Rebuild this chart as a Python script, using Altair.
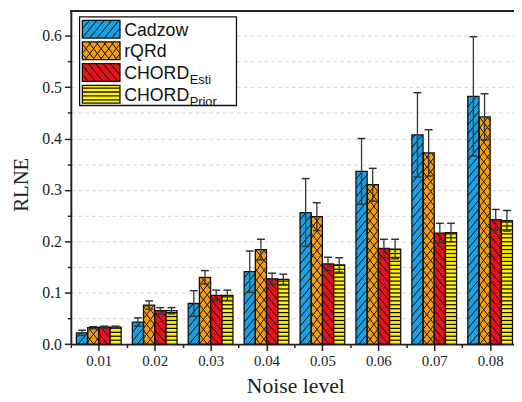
import math
import altair as alt
import pandas as pd

# ---------------- data ----------------
levels = [0.01, 0.02, 0.03, 0.04, 0.05, 0.06, 0.07, 0.08]
series = ["Cadzow", "rQRd", "CHORD_Esti", "CHORD_Prior"]
legend_main = ["Cadzow", "rQRd", "CHORD", "CHORD"]
legend_sub = ["", "", "Esti", "Prior"]

cadzow = [0.022, 0.043, 0.079, 0.141, 0.256, 0.336, 0.407, 0.482]
cadzow_err = [0.005, 0.008, 0.025, 0.040, 0.066, 0.064, 0.082, 0.116]
rqrd = [0.032, 0.076, 0.130, 0.184, 0.248, 0.310, 0.372, 0.442]
rqrd_err = [0.002, 0.008, 0.013, 0.020, 0.027, 0.032, 0.045, 0.045]
esti = [0.033, 0.065, 0.095, 0.127, 0.156, 0.186, 0.216, 0.242]
esti_err = [0.002, 0.006, 0.010, 0.011, 0.013, 0.018, 0.019, 0.020]
prior = [0.033, 0.065, 0.095, 0.126, 0.154, 0.185, 0.217, 0.240]
prior_err = [0.002, 0.006, 0.010, 0.010, 0.014, 0.019, 0.018, 0.020]

y_ticks = [round(0.05 * i, 2) for i in range(13)]
x_ticks = [round(0.005 * i, 3) for i in range(1, 17)]

# ---------------- style / layout ----------------
colors = ["#1AA0E2", "#F59E0C", "#E5121C", "#FFF200"]
patterns = [
    [("/", 1.2, 9.0)],
    [("/", 1.3, 10.0), ("\\", 1.3, 10.0)],
    [("\\", 1.2, 9.0)],
    [("h", 0.0, 4.0)],
]
hatch_width = [1.0, 1.0, 1.0, 1.3]

W, H = 450.0, 338.3
KX, KY = 5677.0, 522.0
X0 = 0.005
XMAX = X0 + W / KX
YMAX = H / KY
BAR_W = 0.002
CAP = 8.0 / KX
PLOT_LEFT_PAGE, BASE_PAGE = 71.8, 8 + H


def to_x(px):
    return X0 + px / KX


def to_y(py):
    return py / KY


def hatch(xa, xb, ya, yb, kind, s, d):
    segs = []
    if kind == "h":
        k = math.floor(ya / d) + 1
        while k * d < yb - 0.3:
            y = k * d
            if y > ya + 0.3:
                segs.append((xa, y, xb, y))
            k += 1
    elif kind == "/":
        cmin, cmax = ya - s * xb, yb - s * xa
        for k in range(math.floor(cmin / d), math.ceil(cmax / d) + 1):
            c = k * d
            lo = max(xa, (ya - c) / s)
            hi = min(xb, (yb - c) / s)
            if hi - lo > 0.3:
                segs.append((lo, s * lo + c, hi, s * hi + c))
    else:
        cmin, cmax = ya + s * xa, yb + s * xb
        for k in range(math.floor(cmin / d), math.ceil(cmax / d) + 1):
            c = k * d
            lo = max(xa, (c - yb) / s)
            hi = min(xb, (c - ya) / s)
            if hi - lo > 0.3:
                segs.append((lo, c - s * lo, hi, c - s * hi))
    return segs


values = [cadzow, rqrd, esti, prior]
errors = [cadzow_err, rqrd_err, esti_err, prior_err]

bar_rows, err_rows, hatch_rows = [], [], []
for i, name in enumerate(series):
    for j, lv in enumerate(levels):
        left = lv + (i - 2) * BAR_W
        right = left + BAR_W
        v, e = values[i][j], errors[i][j]
        bar_rows.append(dict(series=name, x1=left, x2=right, y1=0.0, y2=v))
        cx = (left + right) / 2
        err_rows.append(dict(series=name, x1=cx, xl=cx - CAP / 2, xr=cx + CAP / 2,
                             lo=v - e, hi=v + e))
        xa, xb = (left - X0) * KX, (right - X0) * KX
        for kind, s, d in patterns[i]:
            for (a, b, c, dd) in hatch(xa, xb, 0.0, v * KY, kind, s, d):
                hatch_rows.append(dict(series=name, x1=to_x(a), y1=to_y(b),
                                       x2=to_x(c), y2=to_y(dd), w=hatch_width[i]))

bars = pd.DataFrame(bar_rows)
errs = pd.DataFrame(err_rows)
hatches = pd.DataFrame(hatch_rows)

leg_rows, leg_hatch, leg_text = [], [], []
box = dict(x1=to_x(80.7 - PLOT_LEFT_PAGE), x2=to_x(240 - PLOT_LEFT_PAGE),
           y1=to_y(BASE_PAGE - 104), y2=to_y(BASE_PAGE - 14))
for i, name in enumerate(series):
    top = 17.5 + 22 * i
    xa, xb = 83.5 - PLOT_LEFT_PAGE, 121.7 - PLOT_LEFT_PAGE
    ya, yb = BASE_PAGE - (top + 18), BASE_PAGE - top
    leg_rows.append(dict(series=name, x1=to_x(xa), x2=to_x(xb), y1=to_y(ya), y2=to_y(yb)))
    for kind, s, d in patterns[i]:
        for (a, b, c, dd) in hatch(xa, xb, ya, yb, kind, s, d):
            leg_hatch.append(dict(series=name, x1=to_x(a), y1=to_y(b), x2=to_x(c),
                                  y2=to_y(dd), w=hatch_width[i]))
    tx = 126 - PLOT_LEFT_PAGE
    ty = BASE_PAGE - (top + 15.5)
    leg_text.append(dict(t=legend_main[i], x1=to_x(tx), y1=to_y(ty), size=18))
    if legend_sub[i]:
        leg_text.append(dict(t=legend_sub[i], x1=to_x(tx + 66.5), y1=to_y(ty - 5), size=13))
leg_sw = pd.DataFrame(leg_rows)
leg_h = pd.DataFrame(leg_hatch)
leg_t = pd.DataFrame(leg_text)

# ---------------- encodings ----------------
AX = "#222222"
x_axis = alt.Axis(
    values=x_ticks,
    labelExpr="round(datum.value*1000) % 10 == 0 ? format(datum.value, '.2f') : ''",
    tickSize={"condition": {"test": "round(datum.value*1000) % 10 != 0", "value": 3.5}, "value": 6.5},
    grid=False, domainColor=AX, domainWidth=2, tickColor=AX, tickWidth=1.5,
    labelFont="Liberation Serif", labelFontSize=15, labelColor=AX, labelPadding=3,
    labelFlush=False, labelOverlap=False,
    title="Noise level", titleFont="Liberation Serif", titleFontSize=22,
    titleFontWeight="normal", titleColor=AX, titleX=228, titleY=49.5,
    titleBaseline="alphabetic", titleAlign="center",
)
y_axis = alt.Axis(
    values=y_ticks,
    labelExpr="round(datum.value*100) % 10 == 0 ? format(datum.value, '.1f') : ''",
    tickSize={"condition": {"test": "round(datum.value*100) % 10 != 0", "value": 3.5}, "value": 6.5},
    grid=True, gridDash=[4, 3], gridColor="#d6d6d6", gridWidth=1,
    domainColor=AX, domainWidth=2, tickColor=AX, tickWidth=1.5,
    labelFont="Liberation Serif", labelFontSize=16, labelColor=AX, labelPadding=3,
    labelFlush=False, labelOverlap=False,
    title="RLNE", titleFont="Liberation Serif", titleFontSize=21,
    titleFontWeight="normal", titleColor=AX, titleX=-44.3, titleY=176,
    titleAlign="center", titleBaseline="alphabetic", titleAngle=270,
)
xs = alt.Scale(domain=[X0, XMAX], nice=False, zero=False)
ys = alt.Scale(domain=[0, YMAX], nice=False, zero=False)
color_scale = alt.Scale(domain=series, range=colors)


def X(field):
    return alt.X(field, type="quantitative", scale=xs, axis=x_axis)


def Y(field):
    return alt.Y(field, type="quantitative", scale=ys, axis=y_axis)


bar_fill = alt.Chart(bars).mark_rect(strokeWidth=0).encode(
    x=X("x1"), x2="x2:Q", y=Y("y1"), y2="y2:Q",
    fill=alt.Fill("series:N", scale=color_scale, legend=None),
)


def rules(df, color="#111111"):
    return alt.Chart(df).mark_rule(color=color, strokeCap="butt").encode(
        x=X("x1"), y=Y("y1"), x2="x2:Q", y2="y2:Q",
        strokeWidth=alt.StrokeWidth("w:Q", scale=None, legend=None),
    )


bar_hatch = rules(hatches)
bar_outline = alt.Chart(bars).mark_rect(fillOpacity=0, stroke="#111111", strokeWidth=1.3).encode(
    x=X("x1"), x2="x2:Q", y=Y("y1"), y2="y2:Q",
)
err_v = alt.Chart(errs).mark_rule(color="#333333", strokeWidth=1.3).encode(
    x=X("x1"), y=Y("lo"), y2="hi:Q",
)
err_top = alt.Chart(errs).mark_rule(color="#333333", strokeWidth=1.5).encode(
    x=X("xl"), x2="xr:Q", y=Y("hi"),
)
err_bot = alt.Chart(errs).mark_rule(color="#333333", strokeWidth=1.5).encode(
    x=X("xl"), x2="xr:Q", y=Y("lo"),
)
top_border = alt.Chart(bars).mark_rule(color=AX, strokeWidth=2).encode(
    x=alt.value(0), x2=alt.value(W), y=alt.value(0)
)

leg_box = alt.Chart(pd.DataFrame([box])).mark_rect(fill="white", stroke="#111111", strokeWidth=1.3).encode(
    x=X("x1"), x2="x2:Q", y=Y("y1"), y2="y2:Q",
)
leg_fill = alt.Chart(leg_sw).mark_rect(strokeWidth=0).encode(
    x=X("x1"), x2="x2:Q", y=Y("y1"), y2="y2:Q",
    fill=alt.Fill("series:N", scale=color_scale, legend=None),
)
leg_hatch_c = rules(leg_h)
leg_outline = alt.Chart(leg_sw).mark_rect(fillOpacity=0, stroke="#111111", strokeWidth=1.3).encode(
    x=X("x1"), x2="x2:Q", y=Y("y1"), y2="y2:Q",
)
leg_text_c = alt.Chart(leg_t).mark_text(
    align="left", baseline="alphabetic", font="Liberation Sans", color="#111111"
).encode(
    x=X("x1"), y=Y("y1"),
    text="t:N",
    size=alt.Size("size:Q", scale=None, legend=None),
)

chart = alt.layer(
    bar_fill, bar_hatch, bar_outline, err_v, err_top, err_bot, top_border,
    leg_box, leg_fill, leg_hatch_c, leg_outline, leg_text_c,
).properties(
    width=W, height=H,
    padding={"left": 63.8, "top": 0, "right": 0, "bottom": 52},
    autosize=alt.AutoSizeParams(type="none"),
    background="white",
).configure_view(stroke=None)

chart.save("out.html", embed_options={"renderer": "svg", "actions": False})
